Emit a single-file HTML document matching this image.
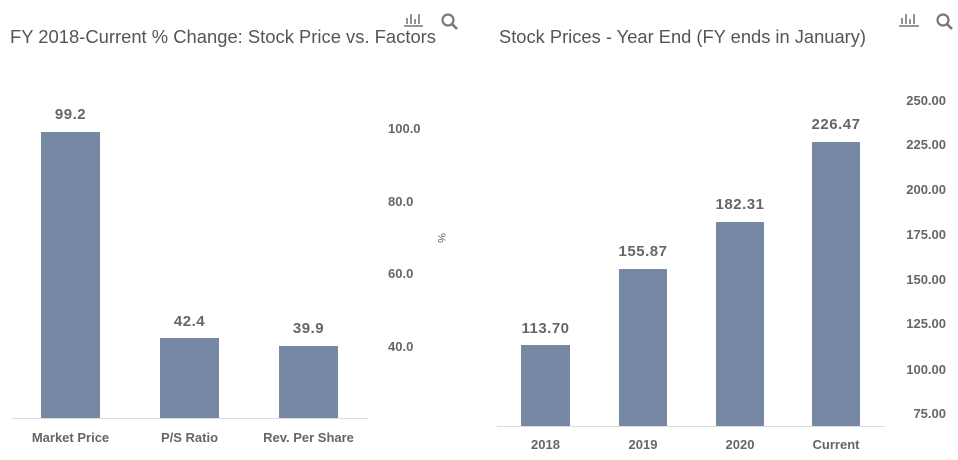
<!DOCTYPE html>
<html><head><meta charset="utf-8"><style>
body{margin:0;width:958px;height:460px;background:#fff;overflow:hidden;font-family:"Liberation Sans",sans-serif}
svg{display:block}
</style></head><body>
<svg width="958" height="460" viewBox="0 0 958 460">
<g font-family="Liberation Sans, sans-serif">
<text x="10" y="43" font-size="18.3" fill="#555" textLength="426" lengthAdjust="spacingAndGlyphs">FY 2018-Current % Change: Stock Price vs. Factors</text>
<text x="499" y="43" font-size="18.3" fill="#555" textLength="367" lengthAdjust="spacingAndGlyphs">Stock Prices - Year End (FY ends in January)</text>
<g stroke="#777" fill="none" stroke-width="1.6">
<line x1="404" y1="26" x2="423" y2="26"/><line x1="407" y1="24" x2="407" y2="18"/><line x1="411" y1="24" x2="411" y2="14"/><line x1="415" y1="24" x2="415" y2="19"/><line x1="419" y1="24" x2="419" y2="14"/>
<circle cx="448" cy="20" r="5.5" stroke-width="2.2"/><line x1="452" y1="24" x2="457" y2="29" stroke-width="2.6"/>
<line x1="899" y1="26" x2="919" y2="26"/><line x1="902" y1="24" x2="902" y2="18"/><line x1="906" y1="24" x2="906" y2="14"/><line x1="910" y1="24" x2="910" y2="19"/><line x1="914" y1="24" x2="914" y2="14"/>
<circle cx="943" cy="20" r="5.5" stroke-width="2.2"/><line x1="947" y1="24" x2="952" y2="29" stroke-width="2.6"/>
</g>
<line x1="12" y1="418.5" x2="368" y2="418.5" stroke="#ddd"/>
<g fill="#7788a5">
<rect x="41" y="132" width="59" height="286"/>
<rect x="160" y="338" width="59" height="80"/>
<rect x="279" y="346" width="59" height="72"/>
</g>
<g font-size="15" font-weight="bold" fill="#666" text-anchor="middle" letter-spacing="0.5">
<text x="70.5" y="119">99.2</text><text x="189.5" y="326">42.4</text><text x="308.5" y="333">39.9</text>
</g>
<g font-size="13" font-weight="bold" fill="#666" text-anchor="middle">
<text x="70.5" y="442">Market Price</text><text x="189.5" y="442">P/S Ratio</text><text x="308.5" y="442">Rev. Per Share</text>
</g>
<g font-size="13" font-weight="bold" fill="#666">
<text x="388" y="133">100.0</text><text x="388" y="206">80.0</text><text x="388" y="278">60.0</text><text x="388" y="351">40.0</text>
</g>
<text transform="translate(438,238) rotate(90)" font-size="11" fill="#666" text-anchor="middle">%</text>
<line x1="497" y1="426.5" x2="885" y2="426.5" stroke="#ddd"/>
<g fill="#7788a5">
<rect x="521" y="345" width="49" height="81"/>
<rect x="619" y="269" width="48" height="157"/>
<rect x="716" y="222" width="48" height="204"/>
<rect x="812" y="142" width="48" height="284"/>
</g>
<g font-size="15" font-weight="bold" fill="#666" text-anchor="middle" letter-spacing="0.5">
<text x="545.5" y="333">113.70</text><text x="643" y="256">155.87</text><text x="740" y="209">182.31</text><text x="836" y="129">226.47</text>
</g>
<g font-size="13" font-weight="bold" fill="#666" text-anchor="middle">
<text x="545.5" y="449">2018</text><text x="643" y="449">2019</text><text x="740" y="449">2020</text><text x="836" y="449">Current</text>
</g>
<g font-size="13" font-weight="bold" fill="#666" text-anchor="end">
<text x="946" y="105">250.00</text><text x="946" y="149">225.00</text><text x="946" y="194">200.00</text><text x="946" y="239">175.00</text><text x="946" y="284">150.00</text><text x="946" y="328">125.00</text><text x="946" y="374">100.00</text><text x="946" y="418">75.00</text>
</g>
</g>
</svg>
</body></html>
